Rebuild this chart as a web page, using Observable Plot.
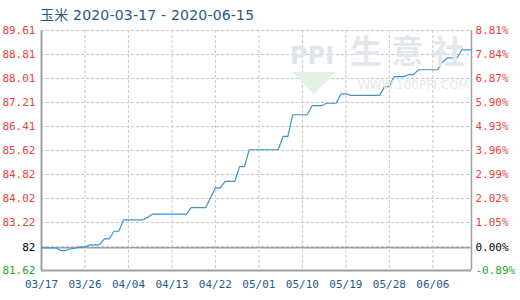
<!DOCTYPE html>
<html><head><meta charset="utf-8">
<script src="https://cdn.jsdelivr.net/npm/d3@7"></script>
<script src="https://cdn.jsdelivr.net/npm/@observablehq/plot@0.6"></script>
<style>
body{margin:0;background:#fff;}
#wrap{position:relative;width:520px;height:300px;overflow:hidden;}
#title{position:absolute;left:40px;top:4px;font:14px "DejaVu Sans","Noto Sans CJK SC",sans-serif;color:#1f5a8c;white-space:nowrap;letter-spacing:0.2px;}
.wm{position:absolute;white-space:nowrap;pointer-events:none;}
</style></head>
<body><div id="wrap"><div id="title"></div></div>
<script>
const titleText = "玉米 2020-03-17 - 2020-06-15";
const startDate = "2020-03-17";
const values = [82.00,82.00,82.00,82.00,81.91,81.91,81.97,81.99,82.03,82.03,
82.10,82.10,82.10,82.30,82.30,82.55,82.55,82.93,82.93,82.93,
82.93,82.93,83.01,83.12,83.12,83.12,83.12,83.12,83.12,83.12,
83.12,83.33,83.33,83.33,83.33,83.67,83.99,83.99,84.20,84.20,
84.20,84.69,84.69,85.25,85.25,85.25,85.25,85.25,85.25,85.25,
85.69,85.69,86.41,86.41,86.41,86.41,86.71,86.71,86.71,86.79,
86.79,86.79,87.10,87.10,87.05,87.05,87.05,87.05,87.05,87.05,
87.05,87.34,87.34,87.67,87.67,87.67,87.74,87.74,87.90,87.90,
87.90,87.90,87.90,88.15,88.29,88.29,88.29,88.56,88.56,88.56];
const baseValue = 82;
const xTickLabels = ["03/17","03/26","04/04","04/13","04/22","05/01","05/10","05/19","05/28","06/06"];
const yTickLabels = ["81.62","82","83.22","84.02","84.82","85.62","86.41","87.21","88.01","88.81","89.61"];
const pctTickLabels = ["-0.89%","0.00%","1.05%","2.02%","2.99%","3.96%","4.93%","5.90%","6.87%","7.84%","8.81%"];
const yDomain = [81.25, 89.20];

document.getElementById("title").textContent = titleText;
const parse = d3.utcParse("%Y-%m-%d");
const t0 = parse(startDate);
const data = values.map((v, i) => ({date: d3.utcDay.offset(t0, i), value: v}));
const xEnd = data[data.length - 1].date;
const xTicks = xTickLabels.map(s => parse("2020-" + s.replace("/", "-")));
const step = (yDomain[1] - yDomain[0]) / (yTickLabels.length - 1);
const slots = yTickLabels.map((_, k) => yDomain[0] + k * step);
const labelColor = k => k === 0 ? "#2aa52a" : (k === 1 ? "#000000" : "#f23c3c");
const leftTicks = yTickLabels.map((s, k) => ({v: k === 1 ? baseValue : slots[k], label: s, color: labelColor(k)}));
const rightTicks = pctTickLabels.map((s, k) => ({v: k === 1 ? baseValue : slots[k], label: s, color: labelColor(k)}));
const gray = "#a0a0a0";
const grid = "#c8c8c8";
const mono = "'DejaVu Sans Mono', 'Liberation Mono', monospace";

const chart = Plot.plot({
  width: 520, height: 300,
  marginLeft: 41, marginRight: 49, marginTop: 30, marginBottom: 30,
  style: {background: "#fff", fontFamily: mono},
  x: {type: "utc", domain: [t0, xEnd], axis: null},
  y: {domain: yDomain, axis: null},
  color: {type: "identity"},
  marks: [
    Plot.ruleY(slots.slice(1), {stroke: grid, strokeDasharray: "3,2", strokeWidth: 1}),
    Plot.ruleX(xTicks.slice(1), {stroke: grid, strokeDasharray: "3,2", strokeWidth: 1}),
    Plot.ruleY([baseValue], {stroke: gray, strokeWidth: 1.5}),
    Plot.ruleX([t0], {stroke: gray, strokeWidth: 2}),
    Plot.ruleX([xEnd], {stroke: gray, strokeWidth: 1.5}),
    Plot.ruleY([yDomain[0]], {stroke: gray, strokeWidth: 2}),
    Plot.line(data, {x: "date", y: "value", stroke: "#3b93d6", strokeWidth: 1.2}),
    Plot.text(leftTicks, {y: "v", text: "label", fill: "color", frameAnchor: "left", textAnchor: "end", dx: -6, fontSize: 11, fontFamily: mono}),
    Plot.text(rightTicks, {y: "v", text: "label", fill: "color", frameAnchor: "right", textAnchor: "start", dx: 4, fontSize: 11, fontFamily: mono}),
    Plot.text(xTicks, {x: d => d, text: d => d3.utcFormat("%m/%d")(d), fill: "#1f5a8c", frameAnchor: "bottom", dy: 17, fontSize: 11, fontFamily: mono})
  ]
});
const wrap = document.getElementById("wrap");
wrap.insertBefore(chart, wrap.firstChild);

function wm(text, css){const d=document.createElement("div");d.className="wm";d.textContent=text;d.style.cssText=css;wrap.appendChild(d);}
wm("生 意 社","left:350px;top:26px;font:bold 32px 'Noto Sans CJK SC',sans-serif;color:#e2e7ee;letter-spacing:1px;");
wm("WWW.100PPI.COM","left:358px;top:78px;font:12px 'DejaVu Sans',sans-serif;color:#e6e6e6;");
wm("PPI","left:290px;top:42px;font:bold 24px 'DejaVu Sans',sans-serif;color:#dde5f0;");
wm("","left:292px;top:72px;width:0;height:0;border-left:22px solid transparent;border-right:22px solid transparent;border-top:22px solid #e3f3e3;");
</script></body></html>
